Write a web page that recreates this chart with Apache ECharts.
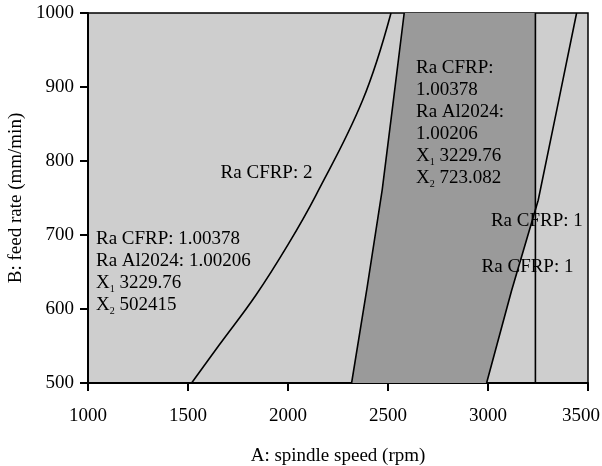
<!DOCTYPE html>
<html>
<head>
<meta charset="utf-8">
<script src="https://cdn.jsdelivr.net/npm/echarts@6/dist/echarts.min.js"></script>
<style>html,body{margin:0;padding:0;background:#fff;}#c{width:602px;height:466px;}</style>
</head>
<body>
<div id="c"></div>
<script>
// ---- data ----
const xTicks = [1000, 1500, 2000, 2500, 3000, 3500];
const yTicks = [500, 600, 700, 800, 900, 1000];
// contour "Ra CFRP: 2"
const cfrp2X = [1518, 1655, 1840, 2000, 2140, 2373, 2515];
const cfrp2Y = [500, 551, 619, 687, 754, 882, 1000];
// left boundary of the feasible (dark) region
const boundX = [2318, 2396, 2471, 2527, 2581];
const boundY = [500, 630, 761, 882, 1000];
// contour "Ra CFRP: 1" (slanted)
const cfrp1X = [2993, 3117, 3251, 3344, 3443];
const cfrp1Y = [500, 624, 747, 869, 1000];
// vertical contour
const vertX = 3237;

// annotation texts (data-space anchors)
const annoText = [
  ['Ra CFRP: 2'],
  ['Ra CFRP: 1.00378', 'Ra Al2024: 1.00206', '{x|X}{s|1}{x| 3229.76}', '{x|X}{s|2}{x| 502415}'],
  ['Ra CFRP:', '1.00378', 'Ra Al2024:', '1.00206', '{x|X}{s|1}{x| 3229.76}', '{x|X}{s|2}{x| 723.082}'],
  ['Ra CFRP: 1'],
  ['Ra CFRP: 1']
];
const annoX = [1663, 1040, 2640, 3474, 2968];
const annoY = [784, 709, 940, 719, 657];
const annoAlign = ['left', 'left', 'left', 'right', 'left'];
const annoVAlign = ['middle', 'top', 'top', 'middle', 'middle'];

const FONT = '"Liberation Serif", "Times New Roman", serif';
const pairs = (xs, ys) => xs.map((v, i) => [v, ys[i]]);

const chart = echarts.init(document.getElementById('c'), null, {renderer: 'canvas'});

function crossY() {
  for (let i = 0; i < cfrp1X.length - 1; i++) {
    if (cfrp1X[i] <= vertX && cfrp1X[i + 1] >= vertX) {
      const t = (vertX - cfrp1X[i]) / (cfrp1X[i + 1] - cfrp1X[i]);
      return cfrp1Y[i] + t * (cfrp1Y[i + 1] - cfrp1Y[i]);
    }
  }
  return 1000;
}

const lineStyle = {color: '#000', width: 1.6};
const baseLine = {type: 'line', showSymbol: false, symbol: 'none', silent: true, lineStyle: lineStyle, z: 5};

chart.setOption({
  animation: false,
  grid: {left: 88, right: 14, top: 13, bottom: 83, containLabel: false, outerBoundsMode: 'none',
         show: true, backgroundColor: '#cecece', borderColor: '#000', borderWidth: 1.5},
  xAxis: {
    type: 'value', min: xTicks[0], max: xTicks[xTicks.length - 1], interval: 500,
    name: 'A: spindle speed (rpm)', nameLocation: 'middle', nameGap: 64,
    nameTextStyle: {color: '#000', fontFamily: FONT, fontSize: 19},
    axisLine: {lineStyle: {color: '#000', width: 2}},
    axisTick: {show: true, inside: false, length: 8, lineStyle: {color: '#000', width: 2}},
    splitLine: {show: false},
    axisLabel: {
      color: '#000', fontFamily: FONT, fontSize: 19, margin: 24, hideOverlap: false,
      formatter: v => v === 3500 ? '{m|' + v + '}' : String(v),
      rich: {m: {fontFamily: FONT, fontSize: 19, color: '#000', padding: [0, 14, 0, 0]}}
    }
  },
  yAxis: {
    type: 'value', min: yTicks[0], max: yTicks[yTicks.length - 1], interval: 100,
    name: 'B: feed rate (mm/min)', nameLocation: 'middle', nameGap: 60,
    nameTextStyle: {color: '#000', fontFamily: FONT, fontSize: 19},
    axisLine: {lineStyle: {color: '#000', width: 2}},
    axisTick: {show: true, inside: false, length: 8, lineStyle: {color: '#000', width: 2}},
    splitLine: {show: false},
    axisLabel: {color: '#000', fontFamily: FONT, fontSize: 19, margin: 14, formatter: v => String(v)}
  },
  series: [
    {
      type: 'custom', silent: true, z: 1,
      data: [[vertX, 500]],
      renderItem: function (params, api) {
        const yc = crossY();
        const pts = [];
        pairs(boundX, boundY).forEach(p => pts.push(api.coord(p)));
        pts.push(api.coord([vertX, 1000]));
        pts.push(api.coord([vertX, yc]));
        const lower = pairs(cfrp1X, cfrp1Y).filter(p => p[0] < vertX).reverse();
        lower.forEach(p => pts.push(api.coord(p)));
        return {type: 'polygon', shape: {points: pts}, style: {fill: '#9a9a9a'}};
      }
    },
    Object.assign({}, baseLine, {data: pairs(cfrp2X, cfrp2Y), smooth: 0.4}),
    Object.assign({}, baseLine, {data: pairs(boundX, boundY)}),
    Object.assign({}, baseLine, {data: pairs(cfrp1X, cfrp1Y)}),
    Object.assign({}, baseLine, {data: [[vertX, 500], [vertX, 1000]]}),
    {
      type: 'custom', silent: true, z: 10,
      data: annoX.map((v, i) => [v, annoY[i]]),
      renderItem: function (params, api) {
        const i = params.dataIndex;
        const p = api.coord([annoX[i], annoY[i]]);
        return {
          type: 'text', x: p[0], y: p[1],
          style: {
            text: annoText[i].map(s => s.indexOf('{') === 0 ? s : '{x|' + s + '}').join('\n'),
            align: annoAlign[i], verticalAlign: annoVAlign[i],
            fill: '#000', fontFamily: FONT, fontSize: 19, lineHeight: 22,
            rich: {
              x: {fontFamily: FONT, fontSize: 19, lineHeight: 22, fill: '#000', color: '#000'},
              s: {fontFamily: FONT, fontSize: 10, lineHeight: 22, verticalAlign: 'bottom', fill: '#000', color: '#000'}
            }
          }
        };
      }
    }
  ]
});
</script>
</body>
</html>
